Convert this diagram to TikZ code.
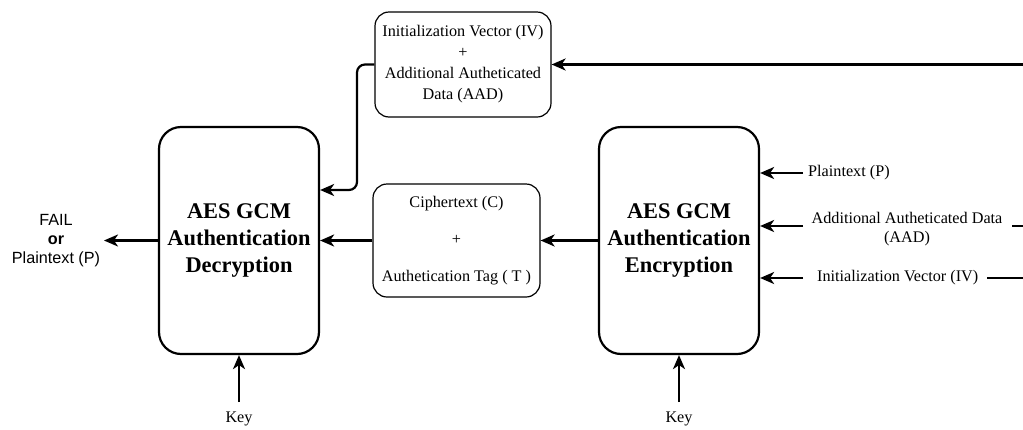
\documentclass[tikz,border=0pt]{standalone}
\usepackage{fontspec}
\setmainfont{Liberation Serif}
\newfontfamily\helv{Liberation Sans}
\usetikzlibrary{arrows.meta}
\begin{document}
\begin{tikzpicture}[x=1pt,y=-1pt,
  bigbox/.style={draw, line width=2.2pt, rounded corners=22pt, minimum width=160pt, minimum height=227pt, align=center, inner sep=0pt, font=\fontsize{22.4}{27}\selectfont\bfseries},
  smallbox/.style={draw, line width=1.2pt, rounded corners=14pt, align=center, inner sep=0pt, font=\fontsize{16.2}{21}\selectfont},
  lbl/.style={inner sep=0pt, font=\fontsize{16.2}{19}\selectfont, align=center},
  arr/.style={line width=2.2pt, -{Stealth[length=14pt,width=12pt,inset=4pt]}},
  ln/.style={line width=2.2pt}]
\useasboundingbox (0,0) rectangle (1023,429);
% main boxes
\node[bigbox] (dec) at (239,240.5) {AES GCM\\Authentication\\Decryption};
\node[bigbox] (enc) at (679,240.5) {AES GCM\\Authentication\\Encryption};
% small boxes
\node[smallbox, minimum width=176pt, minimum height=105pt] (iv) at (463,64.5)
  {Initialization Vector (IV)\\+\\Additional Autheticated\\Data (AAD)};
\node[smallbox, minimum width=167pt, minimum height=113pt, font=\fontsize{16.2}{37}\selectfont] (ct) at (456.5,240.5)
  {Ciphertext (C)\\+\\Authetication Tag ( T )};
% output label
\node[lbl, font=\helv\fontsize{16.2}{19}\selectfont] (fail) at (56,241) {FAIL\\\textbf{or}\\Plaintext (P)};
% keys
\node[lbl] (k1) at (239,419) {Key};
\node[lbl] (k2) at (679,419) {Key};
\coordinate (k1t) at (239,402);
\coordinate (k2t) at (679,402);
% right inputs
\node[lbl, anchor=west] (pt) at (808,173) {Plaintext (P)};
\node[lbl] (aad) at (907,229) {Additional Autheticated Data\\(AAD)};
\node[lbl, anchor=west] (ivl) at (817,278) {Initialization Vector (IV)};
\coordinate (ptS) at (803,173);
\coordinate (aadS) at (803,226);
\coordinate (ivS) at (803,278);
\coordinate (aadE1) at (1012,226);
\coordinate (aadE2) at (1023,226);
\coordinate (ivE1) at (987,278);
\coordinate (ivE2) at (1023,278);
\coordinate (topR) at (1023,64.5);
\coordinate (bend) at (357,190);
\coordinate (failT) at (104,240.5);
% connectors
\draw[arr] (topR) -- (iv.east);
\draw[arr, rounded corners=8pt] (iv.west) -| (bend) -- (bend -| dec.east);
\draw[arr] (enc.west) -- (ct.east);
\draw[arr] (ct.west) -- (dec.east);
\draw[arr] (dec.west) -- (failT);
\draw[arr] (k1t) -- (dec.south);
\draw[arr] (k2t) -- (enc.south);
\draw[arr] (ptS) -- (ptS -| enc.east);
\draw[arr] (aadS) -- (aadS -| enc.east);
\draw[arr] (ivS) -- (ivS -| enc.east);
\draw[ln] (aadE1) -- (aadE2);
\draw[ln] (ivE1) -- (ivE2);
\end{tikzpicture}
\end{document}
